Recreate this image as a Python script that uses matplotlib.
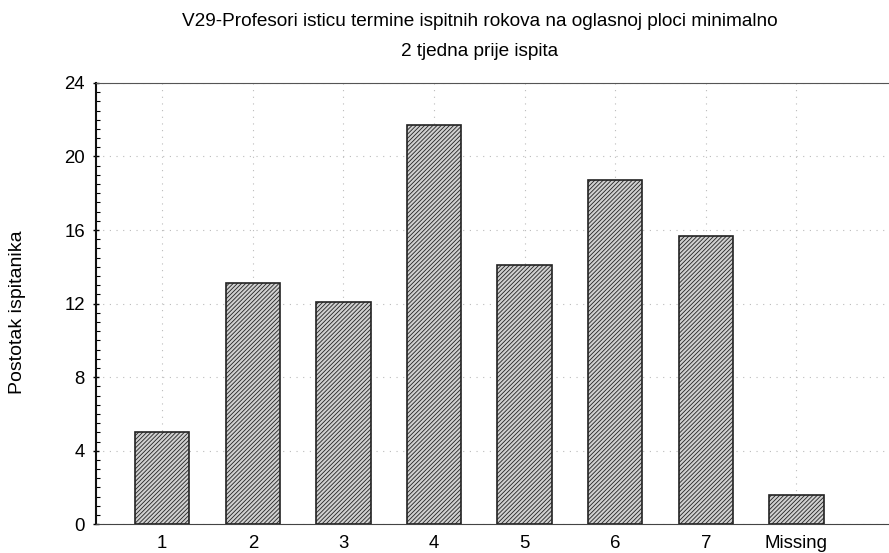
import matplotlib
matplotlib.use("Agg")
import matplotlib.pyplot as plt
import numpy as np

categories = ["1", "2", "3", "4", "5", "6", "7", "Missing"]
values = [5.0, 13.1, 12.1, 21.7, 14.1, 18.7, 15.65, 1.6]
yticks = [0, 4, 8, 12, 16, 20, 24]
title = "V29-Profesori isticu termine ispitnih rokova na oglasnoj ploci minimalno\n2 tjedna prije ispita"
ylabel = "Postotak ispitanika"

plt.rcParams['font.family'] = ['Liberation Sans', 'DejaVu Sans']
plt.rcParams['hatch.color'] = '#555555'
plt.rcParams['hatch.linewidth'] = 0.6

fig = plt.figure(figsize=(8.89, 5.53), dpi=100)
ax = fig.add_axes([0.108, 0.052, 0.9, 0.798])

x = np.arange(len(categories))
ax.bar(x, values, width=0.6, color='#d0d0d0', edgecolor='#222222', linewidth=1.2,
       hatch='////////', zorder=3)

ax.set_xlim(-0.73, 8.1)
ax.set_ylim(0, 24)
ax.set_yticks(yticks)
ax.set_yticks(np.arange(0, 24.1, 0.5), minor=True)
ax.set_xticks(x)
ax.set_xticklabels(categories, fontsize=13.4)
ax.tick_params(axis='y', labelsize=13.4, length=4, width=1, direction='inout', pad=6)
ax.tick_params(axis='y', which='minor', length=3, width=0.8, direction='in')
ax.tick_params(axis='x', length=0, pad=8)
ax.grid(True, which='major', linestyle=(0, (1, 5)), color='#bbbbbb', linewidth=0.8, zorder=0)
ax.set_ylabel(ylabel, fontsize=14)
ax.yaxis.set_label_coords(-0.087, 0.48)
ax.spines['left'].set_linewidth(1.5)
ax.spines['left'].set_color('#111111')
ax.spines['bottom'].set_color('#444444')
ax.spines['top'].set_color('#555555')
ax.spines['right'].set_visible(False)

fig.text(0.54, 0.976, title, ha='center', va='top', fontsize=13.7, linespacing=1.95)

fig.savefig("out.png", dpi=100)
